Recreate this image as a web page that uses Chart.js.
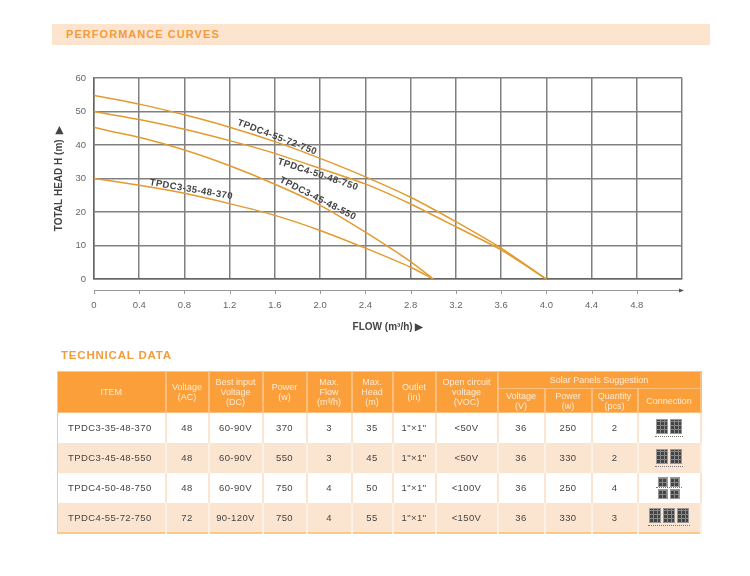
<!DOCTYPE html>
<html>
<head>
<meta charset="utf-8">
<script src="https://cdn.jsdelivr.net/npm/chart.js@4"></script>
<style>
    html, body { margin: 0; padding: 0; background: #fff; }
    body { width: 750px; height: 576px; position: relative; overflow: hidden; font-family: "Liberation Sans", Arial, sans-serif; }
    canvas { position: absolute; left: 0; top: 0; }
    #banner { position: absolute; left: 52px; top: 24px; width: 658px; height: 21px; background: #fde4cf; color: #f29c3c; font-size: 11px; font-weight: bold; letter-spacing: 1.05px; line-height: 21px; text-indent: 14px; }
    #tech-title { position: absolute; left: 61px; top: 349px; color: #f29c3c; font-size: 11.5px; font-weight: bold; letter-spacing: 0.8px; }
    table { position: absolute; left: 57px; top: 371px; width: 643px; height: 162px; table-layout: fixed; border-collapse: collapse; border: 1px solid #fbc88c; border-bottom-width: 2px; }
    th { background: #fb9f3a; color: #fdebd6; font-weight: normal; font-size: 9px; line-height: 10px; padding: 0; border-right: 2px solid #fcbf7c; border-bottom: 1px solid #fcbf7c; }
    td { color: #444; font-size: 9.5px; letter-spacing: 0.4px; text-align: center; padding: 0; border-right: 2px solid #fce5d0; }
    tr.alt td { background: #fce5d0; border-right-color: #fdf0e4; }
    td.item { text-align: left; padding-left: 10px; }
    .icon { display: flex; flex-wrap: wrap; justify-content: center; gap: 1px 2px; margin: 0 auto; }
    .panel { background-color: #444; background-image: repeating-linear-gradient(90deg, transparent 0 3px, #888 3px 4px), repeating-linear-gradient(0deg, transparent 0 3px, #888 3px 4px); border: 1px solid #999; box-sizing: border-box; }
    .wire { height: 0; margin: 2px auto 0; border-bottom: 1px dotted #777; }
</style>
</head>
<body>
<div id="banner">PERFORMANCE CURVES</div>
<canvas id="curveChart" width="750" height="576"></canvas>
<div id="tech-title">TECHNICAL DATA</div>
<table id="tech-table"></table>

<script>
// 1. CURVE DATA
const flow3 = [0, 0.4, 0.8, 1.2, 1.6, 2.0, 2.4, 2.8, 3.0];
const flow4 = [0, 0.4, 0.8, 1.2, 1.6, 2.0, 2.4, 2.8, 3.2, 3.6, 4.0];
const head370 = [30, 28, 25.6, 22.5, 19, 14.5, 9.2, 3.5, 0];
const head550 = [45.2, 42.3, 38.5, 33.8, 28.3, 22, 14, 5.2, 0];
const head750 = [50, 47.6, 44.7, 41.3, 37.5, 33, 28.4, 22.4, 15.6, 8.7, 0];
const head755 = [54.8, 52.2, 49, 45.3, 41, 36, 30.5, 24.4, 17.1, 9.2, 0];
const curveNames = ['TPDC3-35-48-370', 'TPDC3-45-48-550', 'TPDC4-50-48-750', 'TPDC4-55-72-750'];

// 2. TABLE DATA
const rowItems = ['TPDC3-35-48-370', 'TPDC3-45-48-550', 'TPDC4-50-48-750', 'TPDC4-55-72-750'];
const voltageAC = ['48', '48', '48', '72'];
const bestInput = ['60-90V', '60-90V', '60-90V', '90-120V'];
const powerW = ['370', '550', '750', '750'];
const maxFlow = ['3', '3', '4', '4'];
const maxHead = ['35', '45', '50', '55'];
const outlet = ['1"×1"', '1"×1"', '1"×1"', '1"×1"'];
const openCircuit = ['<50V', '<50V', '<100V', '<150V'];
const panelVoltage = ['36', '36', '36', '36'];
const panelPower = ['250', '330', '250', '330'];
const panelQty = ['2', '2', '4', '3'];

const columnWidths = [108, 43, 54, 44, 45, 41, 43, 62, 47, 47, 46, 63];

function xy(xs, ys) {
    return xs.map((x, i) => ({ x: x, y: ys[i] }));
}

function curve(name, xs, ys) {
    return { label: name, data: xy(xs, ys), borderColor: '#e39a2e', borderWidth: 1.5, pointRadius: 0, tension: 0.2, fill: false };
}

// rotated curve names + the lower ruler under the grid
const curveLabels = [
    { text: curveNames[0], x: 0.86, y: 26.7, angle: 9.8 },
    { text: curveNames[1], x: 1.98, y: 24, angle: 27 },
    { text: curveNames[2], x: 1.98, y: 31.2, angle: 18.4 },
    { text: curveNames[3], x: 1.62, y: 42.3, angle: 21 }
];

const decorations = {
    id: 'decorations',
    afterDatasetsDraw(chart) {
        const c = chart.ctx;
        const sx = chart.scales.x;
        const sy = chart.scales.y;
        c.save();
        c.font = 'bold 9.5px "Liberation Sans"';
        c.letterSpacing = '0.45px';
        c.fillStyle = '#444';
        c.textAlign = 'center';
        c.textBaseline = 'middle';
        curveLabels.forEach(l => {
            c.save();
            c.translate(sx.getPixelForValue(l.x), sy.getPixelForValue(l.y));
            c.rotate(l.angle * Math.PI / 180);
            c.fillText(l.text, 0, 0);
            c.restore();
        });
        c.restore();

        const rulerY = 290;
        c.save();
        c.strokeStyle = '#999';
        c.lineWidth = 1;
        c.beginPath();
        c.moveTo(sx.left, rulerY + 0.5);
        c.lineTo(sx.right, rulerY + 0.5);
        sx.ticks.forEach(t => {
            if (t.value > 5) return;
            const px = Math.round(sx.getPixelForValue(t.value)) + 0.5;
            c.moveTo(px, rulerY);
            c.lineTo(px, rulerY + 4);
        });
        c.stroke();
        c.fillStyle = '#555';
        c.beginPath();
        c.moveTo(sx.right + 2, rulerY + 0.5);
        c.lineTo(sx.right - 3, rulerY - 1.5);
        c.lineTo(sx.right - 3, rulerY + 2.5);
        c.fill();
        c.restore();
    }
};

// 3. SETUP CHART.JS
const ctx = document.getElementById('curveChart').getContext('2d');
const curveChart = new Chart(ctx, {
    type: 'line',
    data: {
        datasets: [
            curve(curveNames[0], flow3, head370),
            curve(curveNames[1], flow3, head550),
            curve(curveNames[2], flow4, head750),
            curve(curveNames[3], flow4, head755)
        ]
    },
    plugins: [decorations],
    options: {
        responsive: false,
        animation: false,
        layout: { padding: { left: 53, top: 78, right: 68, bottom: 237 } },
        plugins: { legend: { display: false }, tooltip: { enabled: false } },
        scales: {
            x: {
                type: 'linear',
                min: 0,
                max: 5.2,
                afterFit(scale) { scale.height = 60; },
                grid: { color: '#808080', lineWidth: 1.5, drawTicks: false },
                border: { color: '#666', width: 1.5 },
                ticks: {
                    stepSize: 0.4,
                    autoSkip: false,
                    maxRotation: 0,
                    padding: 21,
                    color: '#666',
                    font: { family: 'Liberation Sans', size: 9.5 },
                    callback(v) {
                        if (v > 5) return '';
                        return v === 0 ? '0' : v.toFixed(1);
                    }
                },
                title: {
                    display: true,
                    text: 'FLOW (m³/h) ▶',
                    color: '#444',
                    padding: { top: 4, bottom: 6 },
                    font: { family: 'Liberation Sans', size: 10, weight: 'bold' }
                }
            },
            y: {
                min: 0,
                max: 60,
                afterFit(scale) { scale.width = 41; },
                grid: { color: '#808080', lineWidth: 1.5, drawTicks: false },
                border: { color: '#666', width: 1.5 },
                ticks: {
                    stepSize: 10,
                    padding: 8,
                    color: '#666',
                    font: { family: 'Liberation Sans', size: 9.5 }
                },
                title: {
                    display: true,
                    text: 'TOTAL HEAD H (m)  ▶',
                    color: '#444',
                    padding: 0,
                    font: { family: 'Liberation Sans', size: 10, weight: 'bold' }
                }
            }
        }
    }
});

// 4. TECHNICAL TABLE
function panelIcon(qty) {
    if (qty === 4) {
        const panels = '<div class="panel" style="width:10px;height:10px"></div>'.repeat(2);
        return `<div class="icon" style="width:24px">${panels}</div><div class="wire" style="width:26px;margin:0 auto"></div><div class="icon" style="width:24px;margin-top:1px">${panels}</div>`;
    }
    const panels = '<div class="panel" style="width:12px;height:15px"></div>'.repeat(qty);
    const w = qty * 14;
    return `<div class="icon" style="width:${w}px">${panels}</div><div class="wire" style="width:${w}px"></div>`;
}

const colgroup = '<colgroup>' + columnWidths.map(w => `<col style="width:${w}px">`).join('') + '</colgroup>';
const head = `<tr style="height:17px">
    <th rowspan="2">ITEM</th><th rowspan="2">Voltage<br>(AC)</th><th rowspan="2">Best input<br>Voltage<br>(DC)</th>
    <th rowspan="2">Power<br>(w)</th><th rowspan="2">Max.<br>Flow<br>(m³/h)</th><th rowspan="2">Max.<br>Head<br>(m)</th>
    <th rowspan="2">Outlet<br>(in)</th><th rowspan="2">Open circuit<br>voltage<br>(VOC)</th><th colspan="4">Solar Panels Suggestion</th>
</tr>
<tr style="height:24px"><th>Voltage<br>(V)</th><th>Power<br>(w)</th><th>Quantity<br>(pcs)</th><th>Connection</th></tr>`;

const rows = rowItems.map((item, i) => {
    const cells = [voltageAC[i], bestInput[i], powerW[i], maxFlow[i], maxHead[i], outlet[i], openCircuit[i], panelVoltage[i], panelPower[i], panelQty[i]];
    const tds = cells.map(v => `<td>${v.replace('<', '&lt;')}</td>`).join('');
    return `<tr class="${i % 2 ? 'alt' : ''}" style="height:30px"><td class="item">${item}</td>${tds}<td>${panelIcon(Number(panelQty[i]))}</td></tr>`;
}).join('');

document.getElementById('tech-table').innerHTML = colgroup + head + rows;
</script>
</body>
</html>
